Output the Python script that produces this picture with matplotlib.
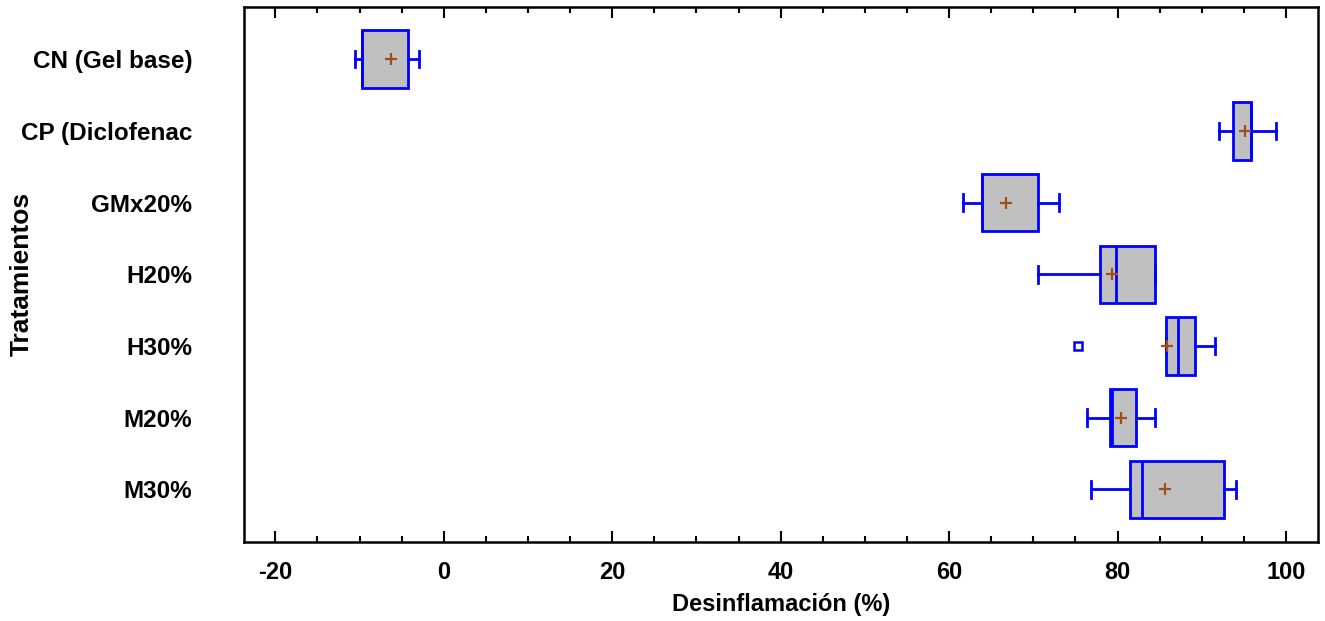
import matplotlib
matplotlib.use("Agg")
import matplotlib.pyplot as plt
from matplotlib.ticker import MultipleLocator

plt.rcParams['font.family'] = ['Liberation Sans', 'DejaVu Sans']
plt.rcParams['axes.unicode_minus'] = False

categories = ["CN (Gel base)", "CP (Diclofenac", "GMx20%", "H20%", "H30%", "M20%", "M30%"]
whislo = [-10.6, 92.0, 61.6, 70.5, 85.7, 76.4, 76.8]
q1 = [-9.7, 93.7, 63.9, 77.9, 85.7, 79.1, 81.5]
med = [-9.7, 95.8, 63.9, 79.8, 87.2, 79.3, 82.9]
q3 = [-4.2, 95.8, 70.5, 84.4, 89.2, 82.2, 92.7]
whishi = [-2.9, 98.8, 73.1, 84.5, 91.6, 84.4, 94.1]
means = [-6.3, 95.1, 66.7, 79.3, 85.9, 80.4, 85.6]
fliers = [[], [], [], [], [75.3], [], []]
xticks = [-20, 0, 20, 40, 60, 80, 100]

stats = []
for i, c in enumerate(categories):
    stats.append(dict(label=c, whislo=whislo[i], q1=q1[i], med=med[i], q3=q3[i],
                      whishi=whishi[i], mean=means[i], fliers=fliers[i]))

fig = plt.figure(figsize=(13.25, 6.21), dpi=100)
ax = fig.add_axes([0.184, 0.128, 0.8107, 0.8607])

blue = '#0000FF'
positions = list(range(1, len(categories) + 1))
ax.bxp(stats, positions=positions, vert=False, widths=0.8, patch_artist=True,
       showmeans=True, capwidths=0.23,
       boxprops=dict(facecolor='#C0C0C0', edgecolor=blue, linewidth=2),
       medianprops=dict(color=blue, linewidth=2),
       whiskerprops=dict(color=blue, linewidth=2),
       capprops=dict(color=blue, linewidth=2),
       meanprops=dict(marker='+', markeredgecolor='#A04C1C', markersize=8, markeredgewidth=1.6),
       flierprops=dict(marker='s', markerfacecolor='white', markeredgecolor=blue,
                       markersize=6, markeredgewidth=1.8))

ax.set_ylim(7.726, 0.274)
ax.set_xlim(-23.75, 103.8)
ax.set_xticks(xticks)
ax.xaxis.set_minor_locator(MultipleLocator(5))
ax.tick_params(axis='x', which='major', direction='in', length=8, width=1.5,
               top=True, bottom=True, labelsize=17, pad=14)
ax.tick_params(axis='x', which='minor', direction='in', length=4.5, width=1.5,
               top=True, bottom=True)
ax.tick_params(axis='y', length=0, labelsize=17.5, pad=37)
for lbl in ax.get_xticklabels() + ax.get_yticklabels():
    lbl.set_fontweight('bold')
for s in ax.spines.values():
    s.set_linewidth(1.8)

ax.set_xlabel('Desinflamación (%)', fontsize=17, fontweight='bold')
ax.xaxis.set_label_coords(0.5, -0.096)
ax.set_ylabel('Tratamientos', fontsize=19, fontweight='bold')
ax.yaxis.set_label_coords(-0.196, 0.5)

fig.savefig('out.png', dpi=100)
